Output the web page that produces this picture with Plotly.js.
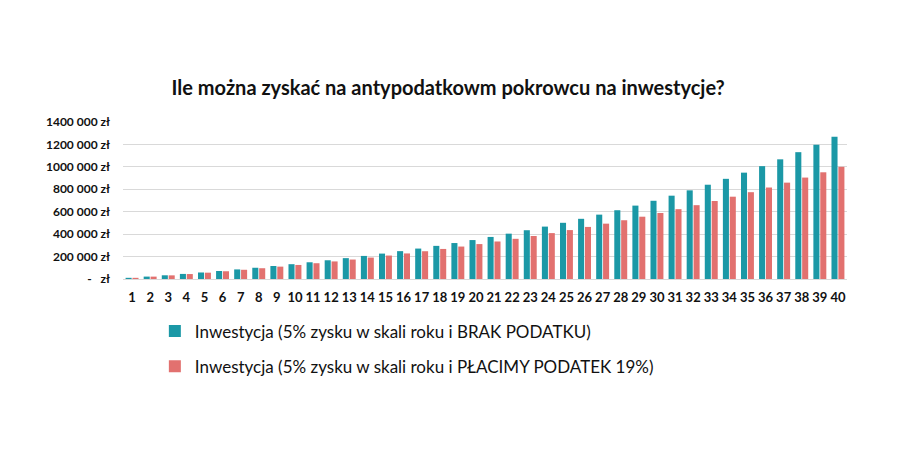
<!DOCTYPE html>
<html>
<head>
<meta charset="utf-8">
<script src="https://cdn.plot.ly/plotly-3.0.1.min.js"></script>
<style>
  html, body { margin: 0; padding: 0; background: #fff; }
  #wykres { width: 900px; height: 472px; }
</style>
</head>
<body>
<div id="wykres"></div>
<script>
// lata inwestycji
var lata = [];
for (var i = 1; i <= 40; i++) lata.push(i);

// wartości (zł)
var bezPodatku = [10500, 21525, 33101, 45256, 58019, 71420, 85491, 100266, 115779, 132068,
    149171, 167130, 185986, 205786, 226575, 248404, 271324, 295390, 320660, 347193,
    375052, 404305, 435020, 467271, 501135, 536691, 574026, 613227, 654389, 697608,
    742988, 790638, 840670, 893203, 948363, 1006281, 1067095, 1130950, 1197998, 1268398];

var zPodatkiem = [10405, 21231, 32494, 44215, 56411, 69100, 82304, 96042, 110337, 125211,
    140687, 156790, 173546, 190980, 209119, 227994, 247632, 268066, 289328, 311451,
    334470, 358421, 383342, 409273, 436253, 464327, 493538, 523931, 555555, 588460,
    622697, 658322, 695389, 733956, 774086, 815842, 859289, 904495, 951531, 1000472];

var yTicki = [0, 200000, 400000, 600000, 800000, 1000000, 1200000, 1400000];
var yEtykiety = ["-   zł", "200 000 zł", "400 000 zł", "600 000 zł", "800 000 zł",
    "1000 000 zł", "1200 000 zł", "1400 000 zł"];

var data = [
    {
        x: lata, y: bezPodatku, type: "bar",
        name: "Inwestycja (5% zysku w skali roku i BRAK PODATKU)",
        legendgroup: "a",
        marker: { color: "#1b98a6" },
        hoverinfo: "y"
    },
    {
        x: lata, y: zPodatkiem, type: "bar",
        name: "Inwestycja (5% zysku w skali roku i PŁACIMY PODATEK 19%)",
        legendgroup: "b",
        marker: { color: "#e2716f" },
        hoverinfo: "y"
    }
];

var layout = {
    width: 900,
    height: 472,
    paper_bgcolor: "#fff",
    plot_bgcolor: "#fff",
    font: { family: "Lato, 'Open Sans', sans-serif", color: "#111" },
    title: {
        text: "<b>Ile można zyskać na antypodatkowm pokrowcu na inwestycje?</b>",
        font: { size: 20, color: "#111" },
        x: 0.498, xref: "container", xanchor: "center",
        y: 0.814, yanchor: "middle"
    },
    margin: { l: 123, r: 53, t: 122, b: 193 },
    barmode: "group",
    bargap: 0.24,
    bargroupgap: 0.12,
    xaxis: {
        type: "category",
        tickfont: { size: 13, color: "#111", weight: "bold" },
        showgrid: false,
        showline: false,
        ticks: "",
        ticklabelstandoff: 9
    },
    yaxis: {
        range: [0, 1400000],
        tickvals: yTicki,
        ticktext: yEtykiety,
        tickfont: { size: 12, color: "#111", weight: "bold" },
        gridcolor: "#d9d9d9",
        gridwidth: 1,
        zeroline: true,
        zerolinecolor: "#d9d9d9",
        ticks: "",
        ticklabelstandoff: 12
    },
    showlegend: true,
    legend: {
        orientation: "v",
        x: 0.044, xanchor: "left",
        y: -0.22, yanchor: "top",
        font: { size: 17, color: "#111" },
        tracegroupgap: 10,
        itemwidth: 30
    }
};

Plotly.newPlot("wykres", data, layout, { displayModeBar: false, staticPlot: true });
</script>
</body>
</html>
